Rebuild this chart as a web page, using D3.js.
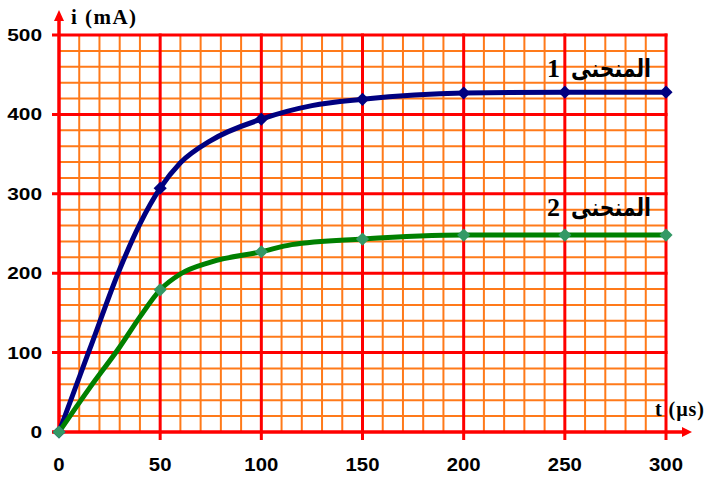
<!DOCTYPE html>
<html>
<head>
<meta charset="utf-8">
<script src="https://cdn.jsdelivr.net/npm/d3@7"></script>
<style>
  body { margin: 0; background: #fff; }
  svg { display: block; }
</style>
</head>
<body>
<div id="chart"></div>
<script>
// data
const tMarkers = [0, 50, 100, 150, 200, 250, 300];

const curve1T = [0, 15, 30, 40, 50, 60, 75, 100, 125, 150, 200, 250, 300];
const curve1I = [0, 103, 205, 262, 307, 339, 367, 394, 411, 419, 427, 428, 428];
const curve1Marks = [0, 307, 394, 419, 427, 428, 428];

const curve2T = [0, 15, 30, 40, 50, 60, 75, 100, 115, 150, 200, 250, 300];
const curve2I = [0, 55, 107, 145, 179, 199, 214, 227, 236, 243, 248, 248, 248];
const curve2Marks = [0, 179, 227, 243, 248, 248, 248];

const xTickLabels = [0, 50, 100, 150, 200, 250, 300];
const yTickLabels = [0, 100, 200, 300, 400, 500];
const curveWords = ['المنحنى', 'المنحنى'];
const curveNumbers = ['1', '2'];

const width = 705, height = 477;

const svg = d3.select('#chart').append('svg')
    .attr('width', width)
    .attr('height', height);

const x = d3.scaleLinear().domain([0, 300]).range([59, 666]);
const y = d3.scaleLinear().domain([0, 500]).range([432, 35]);

// minor grid (orange)
const minorX = d3.range(10, 300, 10).filter(d => d % 50 !== 0);
const minorY = d3.range(20, 500, 20).filter(d => d % 100 !== 0);

svg.append('g').selectAll('line')
    .data(minorX)
    .enter().append('line')
    .attr('x1', d => x(d)).attr('x2', d => x(d))
    .attr('y1', y(0)).attr('y2', y(500))
    .attr('stroke', '#ff7a1a').attr('stroke-width', 2);

svg.append('g').selectAll('line')
    .data(minorY)
    .enter().append('line')
    .attr('x1', x(0)).attr('x2', x(300))
    .attr('y1', d => y(d)).attr('y2', d => y(d))
    .attr('stroke', '#ff7a1a').attr('stroke-width', 2);

// major grid (red), sticking out a little past the axes
svg.append('g').selectAll('line')
    .data(xTickLabels.filter(d => d > 0))
    .enter().append('line')
    .attr('x1', d => x(d)).attr('x2', d => x(d))
    .attr('y1', y(0) + 8).attr('y2', y(500) - 1.5)
    .attr('stroke', '#ff0000').attr('stroke-width', 3);

svg.append('g').selectAll('line')
    .data(yTickLabels.filter(d => d > 0))
    .enter().append('line')
    .attr('x1', x(0) - 7).attr('x2', x(300) + 1.5)
    .attr('y1', d => y(d)).attr('y2', d => y(d))
    .attr('stroke', '#ff0000').attr('stroke-width', 3);

// axes with arrows
svg.append('line')
    .attr('x1', x(0) - 7).attr('x2', 682)
    .attr('y1', y(0)).attr('y2', y(0))
    .attr('stroke', '#ff0000').attr('stroke-width', 3.5);
svg.append('path')
    .attr('d', `M682,${y(0) - 5}L692,${y(0)}L682,${y(0) + 5}Z`)
    .attr('fill', '#ff0000');

svg.append('line')
    .attr('x1', x(0)).attr('x2', x(0))
    .attr('y1', y(0) + 1).attr('y2', 20)
    .attr('stroke', '#ff0000').attr('stroke-width', 3.5);
svg.append('path')
    .attr('d', `M${x(0) - 5},21L${x(0)},10L${x(0) + 5},21Z`)
    .attr('fill', '#ff0000');

// tick labels
svg.append('g').selectAll('text')
    .data(yTickLabels)
    .enter().append('text')
    .attr('x', 42)
    .attr('y', d => y(d) + 6)
    .attr('text-anchor', 'end')
    .attr('font-family', 'Liberation Sans, Arial, sans-serif')
    .attr('font-weight', 'bold')
    .attr('font-size', 16)
    .attr('textLength', d => String(d).length * 11.6)
    .attr('lengthAdjust', 'spacingAndGlyphs')
    .text(d => d);

svg.append('g').selectAll('text')
    .data(xTickLabels)
    .enter().append('text')
    .attr('x', d => x(d))
    .attr('y', 471)
    .attr('text-anchor', 'middle')
    .attr('font-family', 'Liberation Sans, Arial, sans-serif')
    .attr('font-weight', 'bold')
    .attr('font-size', 18.5)
    .attr('textLength', d => String(d).length * 11.3)
    .attr('lengthAdjust', 'spacingAndGlyphs')
    .text(d => d);

// axis titles
svg.append('text')
    .attr('x', 71).attr('y', 24)
    .attr('font-family', 'Liberation Serif, Times New Roman, serif')
    .attr('font-weight', 'bold')
    .attr('font-size', 21)
    .attr('textLength', 65)
    .text('i (mA)');

svg.append('text')
    .attr('x', 655).attr('y', 416)
    .attr('font-family', 'Liberation Serif, Times New Roman, serif')
    .attr('font-weight', 'bold')
    .attr('font-size', 20)
    .attr('textLength', 49)
    .text('t (µs)');

// curves
const line = d3.line()
    .x(d => x(d[0]))
    .y(d => y(d[1]))
    .curve(d3.curveMonotoneX);

const series = [
    { t: curve1T, i: curve1I, marks: curve1Marks, stroke: '#000080', fill: '#000080' },
    { t: curve2T, i: curve2I, marks: curve2Marks, stroke: '#008000', fill: '#339966' }
];

series.forEach(s => {
    svg.append('path')
        .datum(s.t.map((t, k) => [t, s.i[k]]))
        .attr('d', line)
        .attr('fill', 'none')
        .attr('stroke', s.stroke)
        .attr('stroke-width', 5)
        .attr('stroke-linejoin', 'round');
});

series.forEach(s => {
    svg.append('g').selectAll('path')
        .data(tMarkers.map((t, k) => [t, s.marks[k]]))
        .enter().append('path')
        .attr('d', d3.symbol().type(d3.symbolDiamond2).size(110))
        .attr('transform', d => `translate(${x(d[0])},${y(d[1])})`)
        .attr('fill', s.fill);
});

// curve names: arabic word on the right, number on its left
const labelY = [77, 216];
curveWords.forEach((word, k) => {
    svg.append('text')
        .attr('x', 651).attr('y', labelY[k])
        .attr('text-anchor', 'end')
        .attr('font-family', 'DejaVu Sans, sans-serif')
        .attr('font-weight', 'bold')
        .attr('font-size', 25)
        .attr('textLength', 80)
        .attr('lengthAdjust', 'spacingAndGlyphs')
        .text(word);
    svg.append('text')
        .attr('x', 560).attr('y', labelY[k])
        .attr('text-anchor', 'end')
        .attr('font-family', 'Liberation Serif, Times New Roman, serif')
        .attr('font-weight', 'bold')
        .attr('font-size', 26)
        .text(curveNumbers[k]);
});
</script>
</body>
</html>
